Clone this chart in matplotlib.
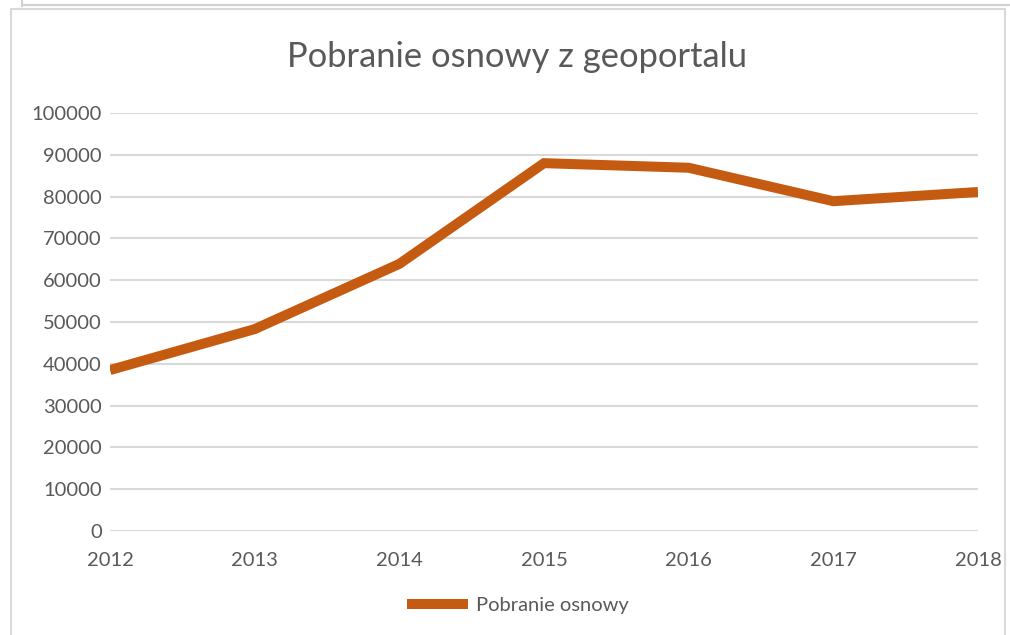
import matplotlib
matplotlib.use("Agg")
import matplotlib.pyplot as plt
from matplotlib.patches import Rectangle
from matplotlib.lines import Line2D

# -------------------------------
# Données
# -------------------------------
years = [2012, 2013, 2014, 2015, 2016, 2017, 2018]
downloads = [38500, 48300, 63900, 88000, 86900, 78900, 81100]
y_ticks = list(range(0, 100001, 10000))
series_name = "Pobranie osnowy"
title = "Pobranie osnowy z geoportalu"

line_color = "#C55A11"
text_color = "#595959"
grid_color = "#D9D9D9"

plt.rcParams["font.family"] = ["Lato", "DejaVu Sans"]

fig = plt.figure(figsize=(10.1, 6.35), dpi=100)

# cadre du graphique (capture d'écran Excel)
fig.add_artist(Line2D([22 / 1010, 22 / 1010], [1, 1 - 6 / 635], transform=fig.transFigure,
                      color="#D0D0D0", lw=1.5))
fig.add_artist(Line2D([22 / 1010, 1], [1 - 5 / 635, 1 - 5 / 635], transform=fig.transFigure,
                      color="#D0D0D0", lw=1.5))
fig.add_artist(Rectangle((11 / 1010, -0.01), (1005 - 11) / 1010, 1 - 9 / 635 + 0.01,
                         transform=fig.transFigure, fill=False, edgecolor="#D9D9D9", lw=1.5))

ax = fig.add_axes([110 / 1010, 1 - 531 / 635, (978 - 110) / 1010, (531 - 113) / 635])
ax.plot(years, downloads, color=line_color, lw=7.2, solid_joinstyle="miter",
        solid_capstyle="butt", label=series_name, zorder=3)

ax.set_xlim(years[0], years[-1])
ax.set_ylim(0, 100000)
ax.set_yticks(y_ticks)
ax.set_yticklabels([str(v) for v in y_ticks])
ax.set_xticks(years)
ax.set_xticklabels([str(y) for y in years])
ax.grid(axis="y", color=grid_color, lw=1.5)
ax.set_axisbelow(True)
for s in ax.spines.values():
    s.set_visible(False)
ax.tick_params(axis="both", length=0, labelsize=14.5, colors=text_color)
ax.tick_params(axis="y", pad=6)
ax.tick_params(axis="x", pad=15)

fig.text(517 / 1010, 1 - 57 / 635, title, ha="center", va="center",
         fontsize=24.8, color=text_color)

leg = fig.legend(loc="center", bbox_to_anchor=(518 / 1010, 1 - 605 / 635), frameon=False,
                 fontsize=14.5, handlelength=3.0, handletextpad=0.4)
for t in leg.get_texts():
    t.set_color(text_color)

plt.savefig("out.png", dpi=100)
